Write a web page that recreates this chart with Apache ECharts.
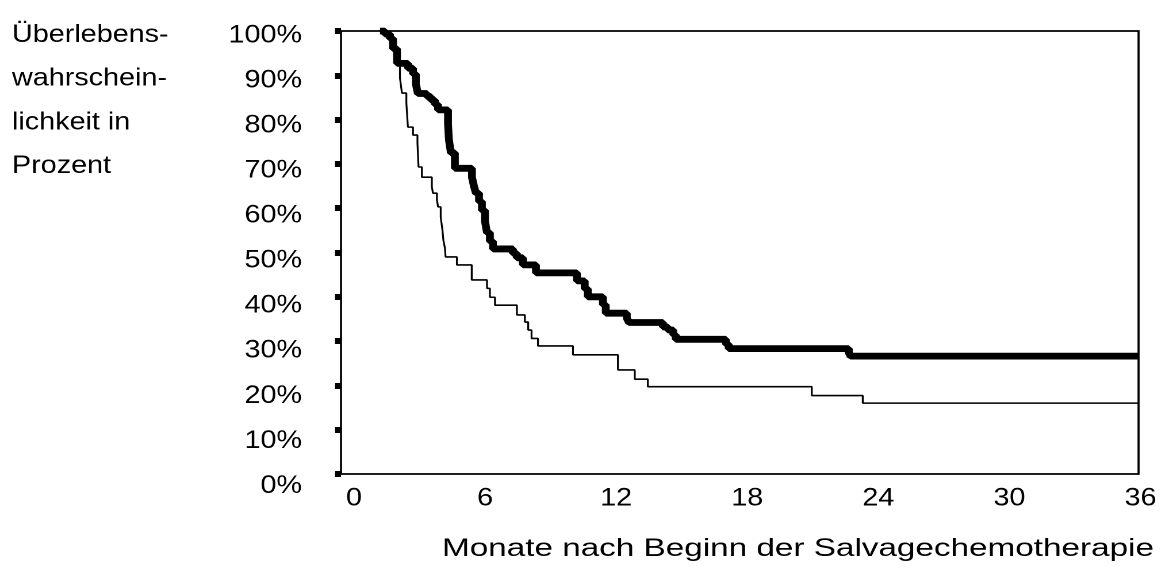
<!DOCTYPE html>
<html>
<head>
<meta charset="utf-8">
<script src="https://cdn.jsdelivr.net/npm/echarts@6/dist/echarts.min.js"></script>
<style>
html,body{margin:0;padding:0;background:#fff;overflow:hidden;}
#wrap{width:1170px;height:567px;overflow:hidden;}
#chart{height:567px;transform-origin:0 0;}
</style>
</head>
<body>
<div id="wrap"><div id="chart"></div></div>
<script>
// Tick labels
const xTicks = [0, 6, 12, 18, 24, 30, 36];
const yTicks = [0, 10, 20, 30, 40, 50, 60, 70, 80, 90, 100];

// Axis titles
const yTitleLines = ['Überlebens-', 'wahrschein-', 'lichkeit in', 'Prozent'];
const xTitle = 'Monate nach Beginn der Salvagechemotherapie';

// Upper curve (thick): months and survival %
const thickMonths = [1.76, 1.98, 2.21, 2.35, 2.53, 3.02, 3.25, 3.38, 3.47, 3.88, 4.06, 4.24, 4.38, 4.83, 4.87, 4.96, 5.14, 5.91, 6.0, 6.09, 6.23, 6.36, 6.5, 6.59, 6.72, 6.86, 7.76, 7.94, 8.21, 8.8, 10.65, 11.0, 11.14, 11.82, 11.95, 12.9, 13.0, 14.53, 14.75, 15.0, 15.11, 17.37, 17.5, 22.92, 23.0, 36];
const thickValues = [100, 99.3, 98.3, 96, 92.7, 91.6, 90.3, 88, 85.9, 85.2, 84.4, 83.4, 82.2, 79, 75.5, 72.5, 69, 67, 65, 63.4, 61.5, 59.5, 57, 54.5, 52.5, 50.8, 49.8, 48.8, 47.2, 45.4, 43.6, 41.8, 40, 38.2, 36.3, 35.2, 34.2, 33.2, 32.5, 31.4, 30.4, 29.3, 28.3, 27.4, 26.6, 26.6];

// Lower curve (thin): months and survival %
const thinMonths = [1.76, 2.0, 2.2, 2.4, 2.5, 2.66, 2.75, 2.95, 3.02, 3.25, 3.45, 3.5, 3.65, 4.1, 4.15, 4.33, 4.38, 4.5, 4.58, 4.62, 4.69, 4.72, 5.23, 5.9, 6.59, 6.72, 6.95, 7.94, 8.3, 8.45, 8.6, 8.89, 10.47, 12.5, 13.26, 13.85, 21.25, 23.55, 36];
const thinValues = [100, 99, 98, 96, 93, 89.4, 86, 83.7, 78.3, 76.5, 74.7, 69.3, 67, 64.8, 63.4, 61.9, 60.3, 58, 55, 52.8, 51, 49, 47.2, 43.8, 41.9, 39.9, 38.1, 35.9, 34.3, 32.5, 30.6, 28.9, 26.9, 23.5, 21.4, 19.7, 17.7, 16.0, 16.0];

const pairs = (xs, ys) => xs.map((x, i) => [x, ys[i]]);
const FONT = '"Liberation Sans", Arial, sans-serif';
const FS = 25;
const S = 1.15; // horizontal stretch of the reference
const W = 1170 / S;
const sx = v => v / S;

const el = document.getElementById('chart');
el.style.width = W + 'px';
el.style.transform = 'scaleX(' + S + ')';

const chart = echarts.init(el, null, {renderer: 'canvas', devicePixelRatio: 2});

const option = {
  backgroundColor: '#fff',
  animation: false,
  grid: [
    {left: sx(341), right: W - sx(1139), top: 31, bottom: 567 - 474,
     show: true, borderColor: '#000', borderWidth: 1.8, backgroundColor: 'transparent'},
    {left: sx(354), right: W - sx(1141), top: 35.5, bottom: 567 - 486, show: false}
  ],
  xAxis: [
    {type: 'value', gridIndex: 0, min: xTicks[0], max: xTicks[xTicks.length - 1], interval: xTicks[1] - xTicks[0],
     axisLine: {show: false}, axisTick: {show: false}, axisLabel: {show: false}, splitLine: {show: false}},
    {type: 'value', gridIndex: 1, min: xTicks[0], max: xTicks[xTicks.length - 1], interval: xTicks[1] - xTicks[0],
     axisLine: {show: false}, axisTick: {show: false}, splitLine: {show: false},
     axisLabel: {show: true, margin: 0, color: '#000', fontSize: FS, fontFamily: FONT}}
  ],
  yAxis: [
    {type: 'value', gridIndex: 0, min: yTicks[0], max: yTicks[yTicks.length - 1], interval: yTicks[1] - yTicks[0],
     axisLine: {show: false}, axisLabel: {show: false}, splitLine: {show: false},
     axisTick: {show: true, inside: false, length: sx(6), lineStyle: {color: '#000', width: 6}}},
    {type: 'value', gridIndex: 1, min: yTicks[0], max: yTicks[yTicks.length - 1], interval: yTicks[1] - yTicks[0],
     axisLine: {show: false}, axisTick: {show: false}, splitLine: {show: false},
     axisLabel: {show: true, margin: sx(354) - sx(302), color: '#000', fontSize: FS, fontFamily: FONT,
       formatter: v => v + '%'}}
  ],
  graphic: [
    {type: 'text', left: sx(12), top: 13,
     style: {text: yTitleLines.join('\n'), fill: '#000', font: FS + 'px ' + FONT, lineHeight: 43.8}},
    {type: 'text', x: sx(442), y: 549, scaleX: 1.157,
     style: {text: xTitle, fill: '#000', font: FS + 'px ' + FONT, verticalAlign: 'middle', align: 'left'}}
  ],
  series: [
    {type: 'line', xAxisIndex: 0, yAxisIndex: 0, step: 'end', showSymbol: false, symbol: 'none',
     data: pairs(thinMonths, thinValues), lineStyle: {color: '#000', width: 1.6}, z: 3},
    {type: 'line', xAxisIndex: 0, yAxisIndex: 0, step: 'end', showSymbol: false, symbol: 'none',
     data: pairs(thickMonths, thickValues), lineStyle: {color: '#000', width: 6.8}, z: 4}
  ]
};
chart.setOption(option);
</script>
</body>
</html>
